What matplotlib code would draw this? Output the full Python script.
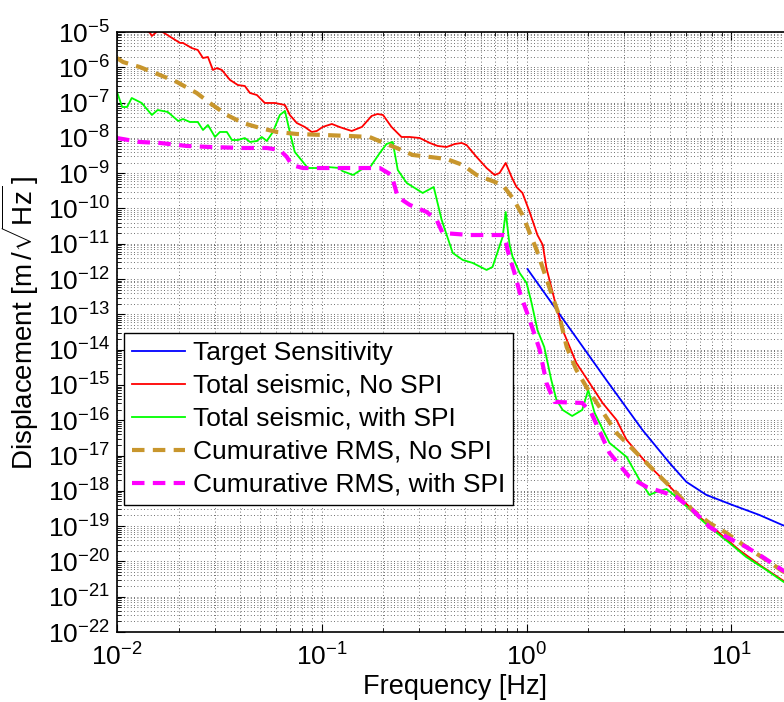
import matplotlib
matplotlib.use("Agg")
import matplotlib.pyplot as plt
from matplotlib.ticker import LogLocator, NullFormatter, LogFormatterSciNotation
import numpy as np

plt.rcParams['font.family'] = ['Liberation Sans', 'DejaVu Sans']
plt.rcParams['mathtext.fontset'] = 'custom'
plt.rcParams['mathtext.rm'] = 'Liberation Sans'
plt.rcParams['mathtext.it'] = 'Liberation Sans:italic'
plt.rcParams['mathtext.default'] = 'regular'

# ---- data ----
target_f = [1.01, 2.45, 3.68, 4.99, 6.03, 7.55, 10.1, 13.7, 17.7, 21.5]
target_y = [1.93e-12, 1.39e-15, 5.31e-17, 6.17e-18, 1.79e-18, 7.66e-19, 3.99e-19,
            2.07e-19, 1.08e-19, 7.31e-20]

nospi_f = [0.0100, 0.0122, 0.0145, 0.0148, 0.0158, 0.0167, 0.0203, 0.0210, 0.0232, 0.0248,
           0.0263, 0.0278, 0.0294, 0.0308, 0.0325, 0.0356, 0.0389, 0.0421, 0.0446, 0.0482,
           0.0527, 0.0590, 0.0661, 0.0698, 0.0755, 0.0826, 0.0893, 0.0946, 0.101, 0.112,
           0.122, 0.126, 0.140, 0.157, 0.175, 0.187, 0.199, 0.219, 0.245, 0.269,
           0.301, 0.337, 0.368, 0.407, 0.446, 0.482, 0.509, 0.570, 0.638, 0.698,
           0.738, 0.791, 0.845, 0.893, 0.955, 1.035, 1.13, 1.20, 1.25, 1.37,
           1.50, 1.75, 2.03, 2.35, 2.75, 3.08, 3.85, 4.82, 5.77, 6.98,
           8.73, 10.9, 14.2, 17.7, 21.5]
nospi_y = [4.2e-5, 1.9e-5, 9.4e-6, 7.7e-6, 1.07e-5, 1.0e-5, 4.9e-6, 4.9e-6, 3.5e-6, 3.1e-6,
           1.83e-6, 1.96e-6, 8.4e-7, 9.5e-7, 8.4e-7, 4.4e-7, 3.15e-7, 2.95e-7, 1.87e-7, 1.64e-7,
           9.75e-8, 9.75e-8, 8.55e-8, 4.46e-8, 2.64e-8, 2.04e-8, 1.47e-8, 1.57e-8, 2.04e-8, 2.48e-8,
           2.04e-8, 1.91e-8, 1.57e-8, 2.04e-8, 4.17e-8, 4.75e-8, 4.46e-8, 2.04e-8, 1.06e-8, 1.06e-8,
           9.9e-9, 7.18e-9, 5.9e-9, 5.52e-9, 6.71e-9, 7.18e-9, 6.3e-9, 2.88e-9, 1.40e-9, 8.9e-10,
           1.01e-9, 1.95e-9, 7.8e-10, 4.06e-10, 2.75e-10, 7.96e-11, 1.77e-11, 9.25e-12, 2.06e-12, 2.56e-13,
           3.61e-14, 4.2e-15, 1.14e-15, 3.09e-16, 1.02e-16, 2.77e-17, 6.17e-18, 1.67e-18, 5.52e-19, 1.82e-19,
           6.41e-20, 2.12e-20, 6.98e-21, 2.99e-21, 1.46e-21]

spi_f = [0.0100, 0.0106, 0.0112, 0.0118, 0.0132, 0.0148, 0.0158, 0.0177, 0.0199, 0.0210,
         0.0227, 0.0248, 0.0263, 0.0278, 0.0301, 0.0318, 0.0344, 0.0364, 0.0389, 0.0421,
         0.0446, 0.0482, 0.0509, 0.0539, 0.0577, 0.0624, 0.0661, 0.0698, 0.0738, 0.0855,
         0.0946, 0.106, 0.122, 0.126, 0.142, 0.158, 0.171, 0.192, 0.207, 0.222,
         0.235, 0.260, 0.311, 0.352, 0.385, 0.436, 0.488, 0.546, 0.638, 0.682,
         0.764, 0.791, 0.826, 0.855, 0.925, 1.00, 1.058, 1.13, 1.22, 1.32,
         1.40, 1.50, 1.67, 1.87, 2.00, 2.15, 2.54, 3.08, 3.56, 3.98,
         4.31, 4.82, 5.39, 6.46, 7.81, 9.78, 11.8, 14.8, 17.7, 21.5]
spi_y = [2.0e-7, 7.5e-8, 7.5e-8, 1.35e-7, 9.75e-8, 4.46e-8, 6.17e-8, 5.42e-8, 3.01e-8, 3.43e-8,
         2.82e-8, 2.82e-8, 1.67e-8, 2.32e-8, 1.06e-8, 1.47e-8, 1.47e-8, 8.7e-9, 8.7e-9, 9.9e-9,
         7.66e-9, 8.17e-9, 1.06e-8, 8.17e-9, 1.47e-8, 4.46e-8, 5.78e-8, 1.47e-8, 3.99e-9, 1.40e-9,
         1.40e-9, 1.50e-9, 1.40e-9, 1.15e-9, 8.9e-10, 1.32e-9, 1.40e-9, 3.73e-9, 6.71e-9, 7.66e-9,
         1.23e-9, 5.27e-10, 2.75e-10, 4.06e-10, 4.72e-11, 5.48e-12, 3.48e-12, 2.86e-12, 1.81e-12, 2.2e-12,
         1.56e-11, 7.96e-11, 9.25e-12, 4.23e-12, 1.49e-12, 7.76e-13, 2.1e-13, 3.61e-14, 1.19e-14, 1.39e-15,
         3.76e-16, 1.96e-16, 1.32e-16, 1.96e-16, 7.21e-16, 1.61e-16, 2.28e-17, 9.12e-18, 2.04e-18, 7.66e-19,
         9.3e-19, 1.13e-18, 6.71e-19, 2.52e-19, 9.5e-20, 3.34e-20, 1.34e-20, 5.74e-21, 2.8e-21, 1.37e-21]

rms_nospi_f = [0.0100, 0.0107, 0.0129, 0.0162, 0.0196, 0.0245, 0.0284, 0.0344, 0.0412, 0.0499,
               0.0603, 0.0755, 0.101, 0.137, 0.171, 0.207, 0.232, 0.278, 0.337, 0.407,
               0.488, 0.570, 0.661, 0.764, 0.855, 0.955, 1.12, 1.29, 1.45, 1.57,
               1.75, 1.96, 2.27, 2.75, 3.44, 4.31, 5.39, 6.46, 7.81, 9.46,
               11.8, 14.8, 17.7, 21.5]
rms_nospi_y = [1.83e-6, 1.41e-6, 1.02e-6, 6.05e-7, 3.84e-7, 1.87e-7, 9.75e-8, 4.46e-8, 2.64e-8, 1.91e-8,
               1.47e-8, 1.29e-8, 1.21e-8, 1.13e-8, 1.06e-8, 6.71e-9, 5.18e-9, 3.28e-9, 2.88e-9, 2.52e-9,
               1.71e-9, 8.9e-10, 6.41e-10, 4.63e-10, 1.98e-10, 6.55e-11, 6.67e-12, 5.97e-13, 8.44e-14, 1.19e-14,
               2.66e-15, 8.77e-16, 2.38e-16, 4.37e-17, 1.19e-17, 3.21e-18, 8.73e-19, 2.88e-19, 1.23e-19, 6.41e-20,
               2.58e-20, 1.10e-20, 5.38e-21, 2.8e-21]

rms_spi_f = [0.0100, 0.0129, 0.0162, 0.0219, 0.0284, 0.0412, 0.0539, 0.0624, 0.0675, 0.0714,
             0.0807, 0.122, 0.192, 0.219, 0.235, 0.269, 0.325, 0.364, 0.389, 0.527,
             0.782, 0.807, 0.873, 0.925, 1.035, 1.16, 1.25, 1.37, 1.87, 2.07,
             2.54, 3.18, 3.85, 4.60, 5.39, 6.46, 7.81, 9.46, 11.8, 14.2,
             17.7, 21.5]
rms_spi_y = [9.9e-9, 7.66e-9, 7.18e-9, 5.9e-9, 5.52e-9, 5.18e-9, 5.18e-9, 4.54e-9, 2.88e-9, 1.71e-9,
             1.40e-9, 1.40e-9, 1.40e-9, 8.9e-10, 2.12e-10, 1.26e-10, 7.96e-11, 4.72e-11, 2.02e-11, 1.77e-11,
             1.77e-11, 6.67e-12, 1.49e-12, 4.31e-13, 6.93e-14, 9.8e-15, 1.14e-15, 3.3e-16, 3.09e-16, 1.61e-16,
             1.19e-17, 2.48e-18, 1.29e-18, 9.3e-19, 6.71e-19, 2.88e-19, 9.5e-20, 4.94e-20, 2.58e-20, 1.34e-20,
             5.74e-21, 3.19e-21]

labels = ["Target Sensitivity", "Total seismic, No SPI", "Total seismic, with SPI",
          "Cumurative RMS, No SPI", "Cumurative RMS, with SPI"]

# ---- figure ----
W, H = 784, 702
fig = plt.figure(figsize=(W / 100, H / 100), dpi=100)
ax = fig.add_axes([117 / W, 70 / H, 676 / W, 600 / H])
ax.set_xscale('log')
ax.set_yscale('log')

l1, = ax.plot(target_f, target_y, color='#0000ff', lw=1.3)
l2, = ax.plot(nospi_f, nospi_y, color='#ff0000', lw=1.3)
l3, = ax.plot(spi_f, spi_y, color='#00ff00', lw=1.3)
l4, = ax.plot(rms_nospi_f, rms_nospi_y, color='#c8962d', lw=3.0, dashes=(3, 2))
l5, = ax.plot(rms_spi_f, rms_spi_y, color='#ff00ff', lw=3.0, dashes=(3, 2))

ax.set_yticks([10.0 ** k for k in range(-22, -4)])
ax.yaxis.set_major_formatter(LogFormatterSciNotation())
ax.yaxis.set_minor_locator(LogLocator(base=10, subs=np.arange(2, 10), numticks=200))
ax.yaxis.set_minor_formatter(NullFormatter())
ax.set_xticks([1e-2, 1e-1, 1e0, 1e1])
ax.xaxis.set_major_formatter(LogFormatterSciNotation())
ax.xaxis.set_minor_locator(LogLocator(base=10, subs=np.arange(2, 10), numticks=200))
ax.xaxis.set_minor_formatter(NullFormatter())
ax.set_ylim(1e-22, 1e-5)
ax.set_xlim(1e-2, 20)

ax.tick_params(which='both', direction='in', top=True, right=True, labelsize=19)
ax.tick_params(which='major', length=6, width=0.8)
ax.tick_params(which='minor', length=3, width=0.6)
ax.tick_params(axis='x', pad=8)
ax.tick_params(axis='y', pad=5)

ax.grid(True, which='both', color='0.25', linestyle=(0, (1, 3)), linewidth=0.6)
for s in ax.spines.values():
    s.set_linewidth(1.2)

ax.set_xlabel('Frequency [Hz]', fontsize=19.5, labelpad=3)
ax.set_ylabel(r'Displacement $[\mathrm{m}\,/\sqrt{\mathrm{Hz}}\,]$', fontsize=20)
ax.yaxis.set_label_coords(-0.113, 0.515)

leg = ax.legend([l1, l2, l3, l4, l5], labels, loc='upper left',
                bbox_to_anchor=(124 / W, 1 - 333 / H), bbox_transform=fig.transFigure,
                fontsize=19, frameon=True, fancybox=False, framealpha=1,
                edgecolor='black', borderpad=0.3, labelspacing=0.34,
                handlelength=2.0, handletextpad=0.3, borderaxespad=0)
leg.get_frame().set_linewidth(1.0)

fig.savefig('out.png', dpi=100)
